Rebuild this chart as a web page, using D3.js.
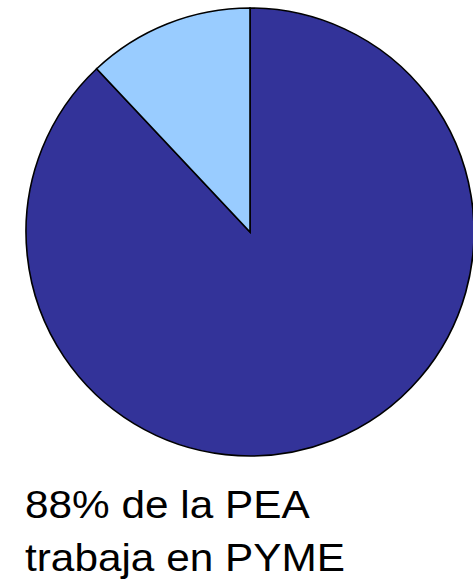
<!DOCTYPE html>
<html>
<head>
<meta charset="utf-8">
<script src="https://cdn.jsdelivr.net/npm/d3@7"></script>
<style>
  html, body { margin: 0; padding: 0; background: #fff; }
  svg { display: block; }
</style>
</head>
<body>
<div id="chart"></div>
<script>

const categories = ["PYME", "Otras"] ;
const shares = [88, 12] ;
const colors = ["#333399", "#99CCFF"] ;
const caption = ["88% de la PEA", "trabaja en PYME"] ;

const width = 473 ;
const height = 579 ;

const svg = d3.select("#chart").append("svg")
	.attr("width", width)
	.attr("height", height)

const cx = 250, cy = 232, radius = 224 ;

const pie = d3.pie()
	.sort(null)
	.value(function(d) { return d.value })

const arc = d3.arc()
	.innerRadius(0)
	.outerRadius(radius)

const data = categories.map(function(c, i) {
	return { name: c, value: shares[i], color: colors[i] }
})

const g = svg.append("g")
	.attr("transform", "translate(" + cx + "," + cy + ")")

g.selectAll("path.slice")
	.data(pie(data))
	.enter()
		.append("path")
			.attr("class", "slice")
			.attr("d", arc)
			.attr("fill", function(d) { return d.data.color })
			.attr("stroke", "#000")
			.attr("stroke-width", 1.6)
			.attr("stroke-linejoin", "miter")

// caption under the pie, slightly stretched like the original
svg.selectAll("text.caption")
	.data(caption)
	.enter()
		.append("text")
			.attr("class", "caption")
			.attr("transform", function(d, i) {
				return "translate(25," + (518 + i * 53) + ") scale(1.085,1)"
			})
			.attr("font-family", "'Liberation Sans', Arial, sans-serif")
			.attr("font-size", 39)
			.attr("fill", "#000")
			.text(function(d) { return d })

</script>
</body>
</html>
